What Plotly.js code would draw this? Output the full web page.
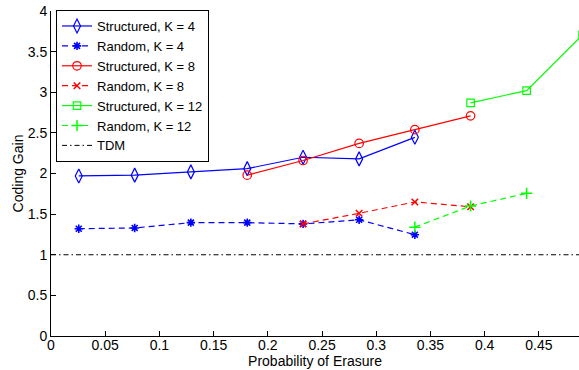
<!DOCTYPE html>
<html>
<head>
<meta charset="utf-8">
<script src="https://cdn.plot.ly/plotly-3.0.1.min.js"></script>
<style>html,body{margin:0;padding:0;background:#fff;}#chart{width:579px;height:370px;}</style>
</head>
<body>
<div id="chart"></div>
<script>
const xK4 = [0.0256, 0.0772, 0.1290, 0.1810, 0.2325, 0.2842, 0.3356];
const structuredK4 = [1.97, 1.98, 2.02, 2.06, 2.20, 2.18, 2.445];
const randomK4 = [1.32, 1.33, 1.395, 1.395, 1.38, 1.43, 1.247];
const xK8 = [0.1810, 0.2325, 0.2842, 0.3356, 0.3870];
const structuredK8 = [1.98, 2.16, 2.37, 2.54, 2.71];
const xK8r = [0.2325, 0.2842, 0.3356, 0.3870];
const randomK8 = [1.38, 1.51, 1.65, 1.59];
const xK12 = [0.3870, 0.4387, 0.4903];
const structuredK12 = [2.87, 3.02, 3.706];
const xK12r = [0.3356, 0.3870, 0.4387];
const randomK12 = [1.34, 1.60, 1.756];
const xTDM = [0, 0.5];
const tdm = [1, 1];
const xTicks = [0, 0.05, 0.1, 0.15, 0.2, 0.25, 0.3, 0.35, 0.4, 0.45];
const xTickLabels = ['0', '0.05', '0.1', '0.15', '0.2', '0.25', '0.3', '0.35', '0.4', '0.45'];
const yTicks = [0, 0.5, 1, 1.5, 2, 2.5, 3, 3.5, 4];
const yTickLabels = ['0', '0.5', '1', '1.5', '2', '2.5', '3', '3.5', '4'];

const BLUE = '#0000ff', RED = '#ff0000', GREEN = '#00ff00';
const DASH = '6px,4px';
function tr(name, x, y, color, dash, symbol, size, lw) {
  return {
    type: 'scatter', mode: 'lines+markers', name: name, x: x, y: y,
    line: {color: color, width: 1.2, dash: dash},
    marker: {symbol: symbol, size: size, color: color, line: {color: color, width: lw || 1.2}},
    cliponaxis: true
  };
}
const data = [
  tr('Structured, K = 4', xK4, structuredK4, BLUE, 'solid', 'diamond-tall-open', 10),
  tr('Random, K = 4', xK4, randomK4, BLUE, DASH, 'asterisk-open', 7, 1.6),
  tr('Structured, K = 8', xK8, structuredK8, RED, 'solid', 'circle-open', 8.5),
  tr('Random, K = 8', xK8r, randomK8, RED, DASH, 'x-thin-open', 6.5, 1.5),
  tr('Structured, K = 12', xK12, structuredK12, GREEN, 'solid', 'square-open', 7.5),
  tr('Random, K = 12', xK12r, randomK12, GREEN, DASH, 'cross-thin-open', 8, 1.5),
  {type: 'scatter', mode: 'lines', name: 'TDM', x: xTDM, y: tdm,
   line: {color: '#000000', width: 1, dash: '5px,3px,1.5px,3px'}}
];
const FAM = 'Liberation Sans, Arial, Helvetica, sans-serif';
const layout = {
  width: 579, height: 370,
  margin: {l: 51, r: 0, t: 11, b: 34, pad: 0},
  paper_bgcolor: '#fff', plot_bgcolor: '#fff',
  font: {family: FAM, size: 14, color: '#000'},
  showlegend: true,
  legend: {x: 0.0095, y: 1.003, xanchor: 'left', yanchor: 'top',
    bgcolor: '#fff', bordercolor: '#000', borderwidth: 1,
    font: {family: FAM, size: 13, color: '#000'}, tracegroupgap: 0},
  xaxis: {
    range: [0, 0.487], tickvals: xTicks, ticktext: xTickLabels,
    ticks: 'inside', ticklen: 5, tickcolor: '#000', tickwidth: 1,
    ticklabelstandoff: -4,
    showline: true, linecolor: '#000', linewidth: 1, mirror: false,
    showgrid: false, zeroline: false,
    title: {text: 'Probability of Erasure', font: {family: FAM, size: 14}, standoff: 0},
    tickfont: {family: FAM, size: 14}
  },
  yaxis: {
    range: [0, 4], tickvals: yTicks, ticktext: yTickLabels,
    ticks: 'inside', ticklen: 5, tickcolor: '#000', tickwidth: 1,
    showline: true, linecolor: '#000', linewidth: 1, mirror: false,
    showgrid: false, zeroline: false,
    title: {text: 'Coding Gain', font: {family: FAM, size: 14}, standoff: 0},
    tickfont: {family: FAM, size: 14}
  }
};
Plotly.newPlot('chart', data, layout, {displayModeBar: false, staticPlot: true});
</script>
</body>
</html>
